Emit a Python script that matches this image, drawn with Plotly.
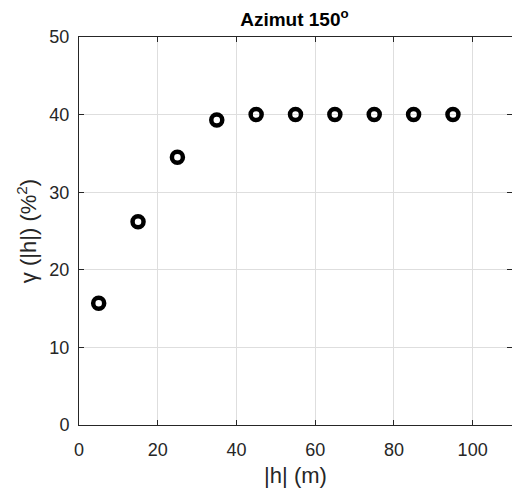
import plotly.graph_objects as go

lag_m = [5, 15, 25, 35, 45, 55, 65, 75, 85, 95]
gamma_vals = [15.7, 26.2, 34.5, 39.3, 40.0, 40.0, 40.0, 40.0, 40.0, 40.0]
x_ticks = [0, 20, 40, 60, 80, 100]
y_ticks = [0, 10, 20, 30, 40, 50]

font_family = "Liberation Sans, Arial, sans-serif"

fig = go.Figure()
fig.add_trace(go.Scatter(
    x=lag_m, y=gamma_vals, mode="markers",
    marker=dict(symbol="circle-open", size=11, color="black", line=dict(width=4.5, color="black")),
    showlegend=False,
))

axis_common = dict(
    showgrid=True, gridcolor="#dedede", gridwidth=1,
    showline=True, linecolor="#262626", linewidth=1, mirror="ticks",
    ticks="inside", ticklen=5, tickcolor="#262626",
    zeroline=False,
    tickfont=dict(family=font_family, size=18, color="#262626"),
)

fig.update_xaxes(range=[0, 110], tickvals=x_ticks, ticklabelstandoff=8,
                 title=dict(text="|h| (m)", font=dict(family=font_family, size=22, color="#262626"), standoff=9),
                 **axis_common)
fig.update_yaxes(range=[0, 50], tickvals=y_ticks, ticklabelstandoff=5,
                 title=dict(text="γ (|h|) (%<sup>2</sup>)", font=dict(family=font_family, size=22, color="#262626"), standoff=6),
                 **axis_common)

fig.update_layout(
    width=512, height=499,
    margin=dict(l=79, r=0, t=37, b=74, autoexpand=False),
    paper_bgcolor="white", plot_bgcolor="white",
    title=dict(text="<b>Azimut 150<sup>o</sup></b>", x=0.575, xanchor="center", y=0.962, yanchor="middle",
               font=dict(family=font_family, size=19, color="black")),
)

fig.write_html("out.html", config={"displayModeBar": False},
               post_script="document.body.style.margin='0';document.body.style.overflow='hidden';")
